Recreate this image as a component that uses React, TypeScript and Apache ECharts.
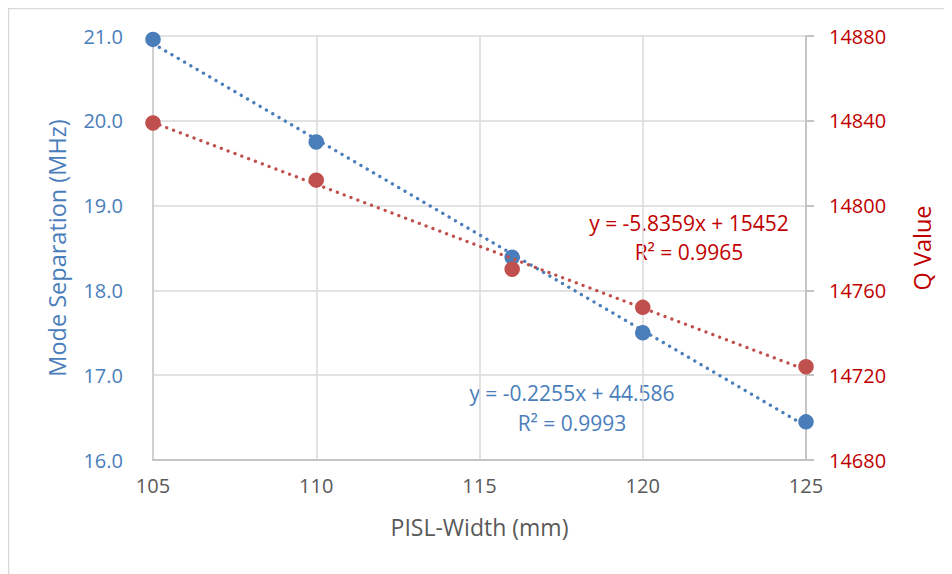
import React, { useEffect, useRef } from "react";
import * as echarts from "echarts";

const widths = [105, 110, 116, 120, 125];
const modeSeparation = [20.96, 19.75, 18.39, 17.5, 16.45];
const qValue = [14839, 14812, 14770, 14752, 14724];
const blueTrendX = [105, 125];
const blueTrendY = [20.91, 16.4];
const redTrendX = [105, 125];
const redTrendY = [14839.2, 14722.5];
const blueEquation = ["y = -0.2255x + 44.586", "R² = 0.9993"];
const redEquation = ["y = -5.8359x + 15452", "R² = 0.9965"];

const BLUE = "#4a7ebb";
const RED = "#c0504d";
const BLUE_TEXT = "#4a7ebb";
const RED_TEXT = "#c00000";
const FONT = "'Open Sans', sans-serif";

export default function App() {
  const ref = useRef<HTMLDivElement>(null);
  useEffect(() => {
    if (!ref.current) return;
    const chart = echarts.init(ref.current, undefined, { renderer: "svg" });
    const dotted = (color: string) => ({
      color,
      width: 3.3,
      type: [0.1, 7.2] as any,
      cap: "round" as any,
    });
    chart.setOption({
      animation: false,
      backgroundColor: "#ffffff",
      textStyle: { fontFamily: FONT },
      grid: { left: 145, top: 28, width: 653, height: 424, containLabel: false },
      xAxis: {
        type: "value",
        min: 105,
        max: 125,
        interval: 5,
        name: "PISL-Width (mm)",
        nameLocation: "middle",
        nameGap: 55,
        nameTextStyle: { color: "#595959", fontSize: 23, fontFamily: FONT },
        axisLine: { show: true, lineStyle: { color: "#c4c4c4", width: 2 } },
        axisTick: { show: false },
        axisLabel: { color: "#595959", fontSize: 20, margin: 15, fontFamily: FONT },
        splitLine: { show: true, lineStyle: { color: "#d9d9d9", width: 1.5 } },
      },
      yAxis: [
        {
          type: "value",
          min: 16,
          max: 21,
          interval: 1,
          position: "left",
          name: "Mode Separation (MHz)",
          nameLocation: "middle",
          nameRotate: 90,
          nameGap: 84,
          nameTextStyle: { color: BLUE_TEXT, fontSize: 23.5, fontFamily: FONT },
          axisLine: { show: true, lineStyle: { color: "#d0d0d0", width: 2 } },
          axisTick: { show: false },
          axisLabel: {
            color: BLUE_TEXT,
            fontSize: 20,
            margin: 30,
            fontFamily: FONT,
            formatter: (v: number) => v.toFixed(1),
          },
          splitLine: { show: true, lineStyle: { color: "#d9d9d9", width: 1.5 } },
        },
        {
          type: "value",
          min: 14680,
          max: 14880,
          interval: 40,
          position: "right",
          name: "Q Value",
          nameLocation: "middle",
          nameRotate: 90,
          nameGap: 104,
          nameTextStyle: { color: RED_TEXT, fontSize: 23.5, fontFamily: FONT },
          axisLine: { show: true, lineStyle: { color: "#c4c4c4", width: 2 } },
          axisTick: { show: true, length: 8, lineStyle: { color: "#c4c4c4", width: 2 } },
          axisLabel: {
            color: RED_TEXT,
            fontSize: 20,
            margin: 23,
            fontFamily: FONT,
            formatter: (v: number) => String(v),
          },
          splitLine: { show: false },
        },
      ],
      series: [
        {
          type: "line",
          yAxisIndex: 0,
          data: blueTrendX.map((x, i) => [x, blueTrendY[i]]),
          showSymbol: false,
          lineStyle: dotted(BLUE),
          silent: true,
        },
        {
          type: "scatter",
          yAxisIndex: 0,
          data: widths.map((x, i) => [x, modeSeparation[i]]),
          symbolSize: 15.5,
          itemStyle: { color: BLUE, opacity: 1 },
        },
        {
          type: "line",
          yAxisIndex: 1,
          data: redTrendX.map((x, i) => [x, redTrendY[i]]),
          showSymbol: false,
          lineStyle: dotted(RED),
          silent: true,
        },
        {
          type: "scatter",
          yAxisIndex: 1,
          data: widths.map((x, i) => [x, qValue[i]]),
          symbolSize: 15.5,
          itemStyle: { color: RED, opacity: 1 },
        },
      ],
      graphic: [
        {
          type: "rect",
          z: 1,
          silent: true,
          shape: { x: 0, y: 0, width: 1100, height: 800 },
          style: { fill: "none", stroke: "#d9d9d9", lineWidth: 2.5 },
        },
        {
          type: "group",
          z: 50,
          children: [
            {
              type: "rect",
              shape: { x: 572, y: 186, width: 218, height: 74 },
              style: { fill: "#ffffff" },
            },
            {
              type: "text",
              x: 681,
              y: 215,
              style: { text: redEquation[0], fill: RED_TEXT, font: `21px ${FONT}`, align: "center", verticalAlign: "middle" },
            },
            {
              type: "text",
              x: 681,
              y: 244,
              style: { text: redEquation[1], fill: RED_TEXT, font: `21px ${FONT}`, align: "center", verticalAlign: "middle" },
            },
            {
              type: "rect",
              shape: { x: 450, y: 369, width: 232, height: 64 },
              style: { fill: "#ffffff" },
            },
            {
              type: "text",
              x: 564,
              y: 385,
              style: { text: blueEquation[0], fill: BLUE_TEXT, font: `21px ${FONT}`, align: "center", verticalAlign: "middle" },
            },
            {
              type: "text",
              x: 564,
              y: 415,
              style: { text: blueEquation[1], fill: BLUE_TEXT, font: `21px ${FONT}`, align: "center", verticalAlign: "middle" },
            },
          ],
        },
      ],
    });
    return () => chart.dispose();
  }, []);
  return <div ref={ref} style={{ width: 944, height: 566 }} />;
}
